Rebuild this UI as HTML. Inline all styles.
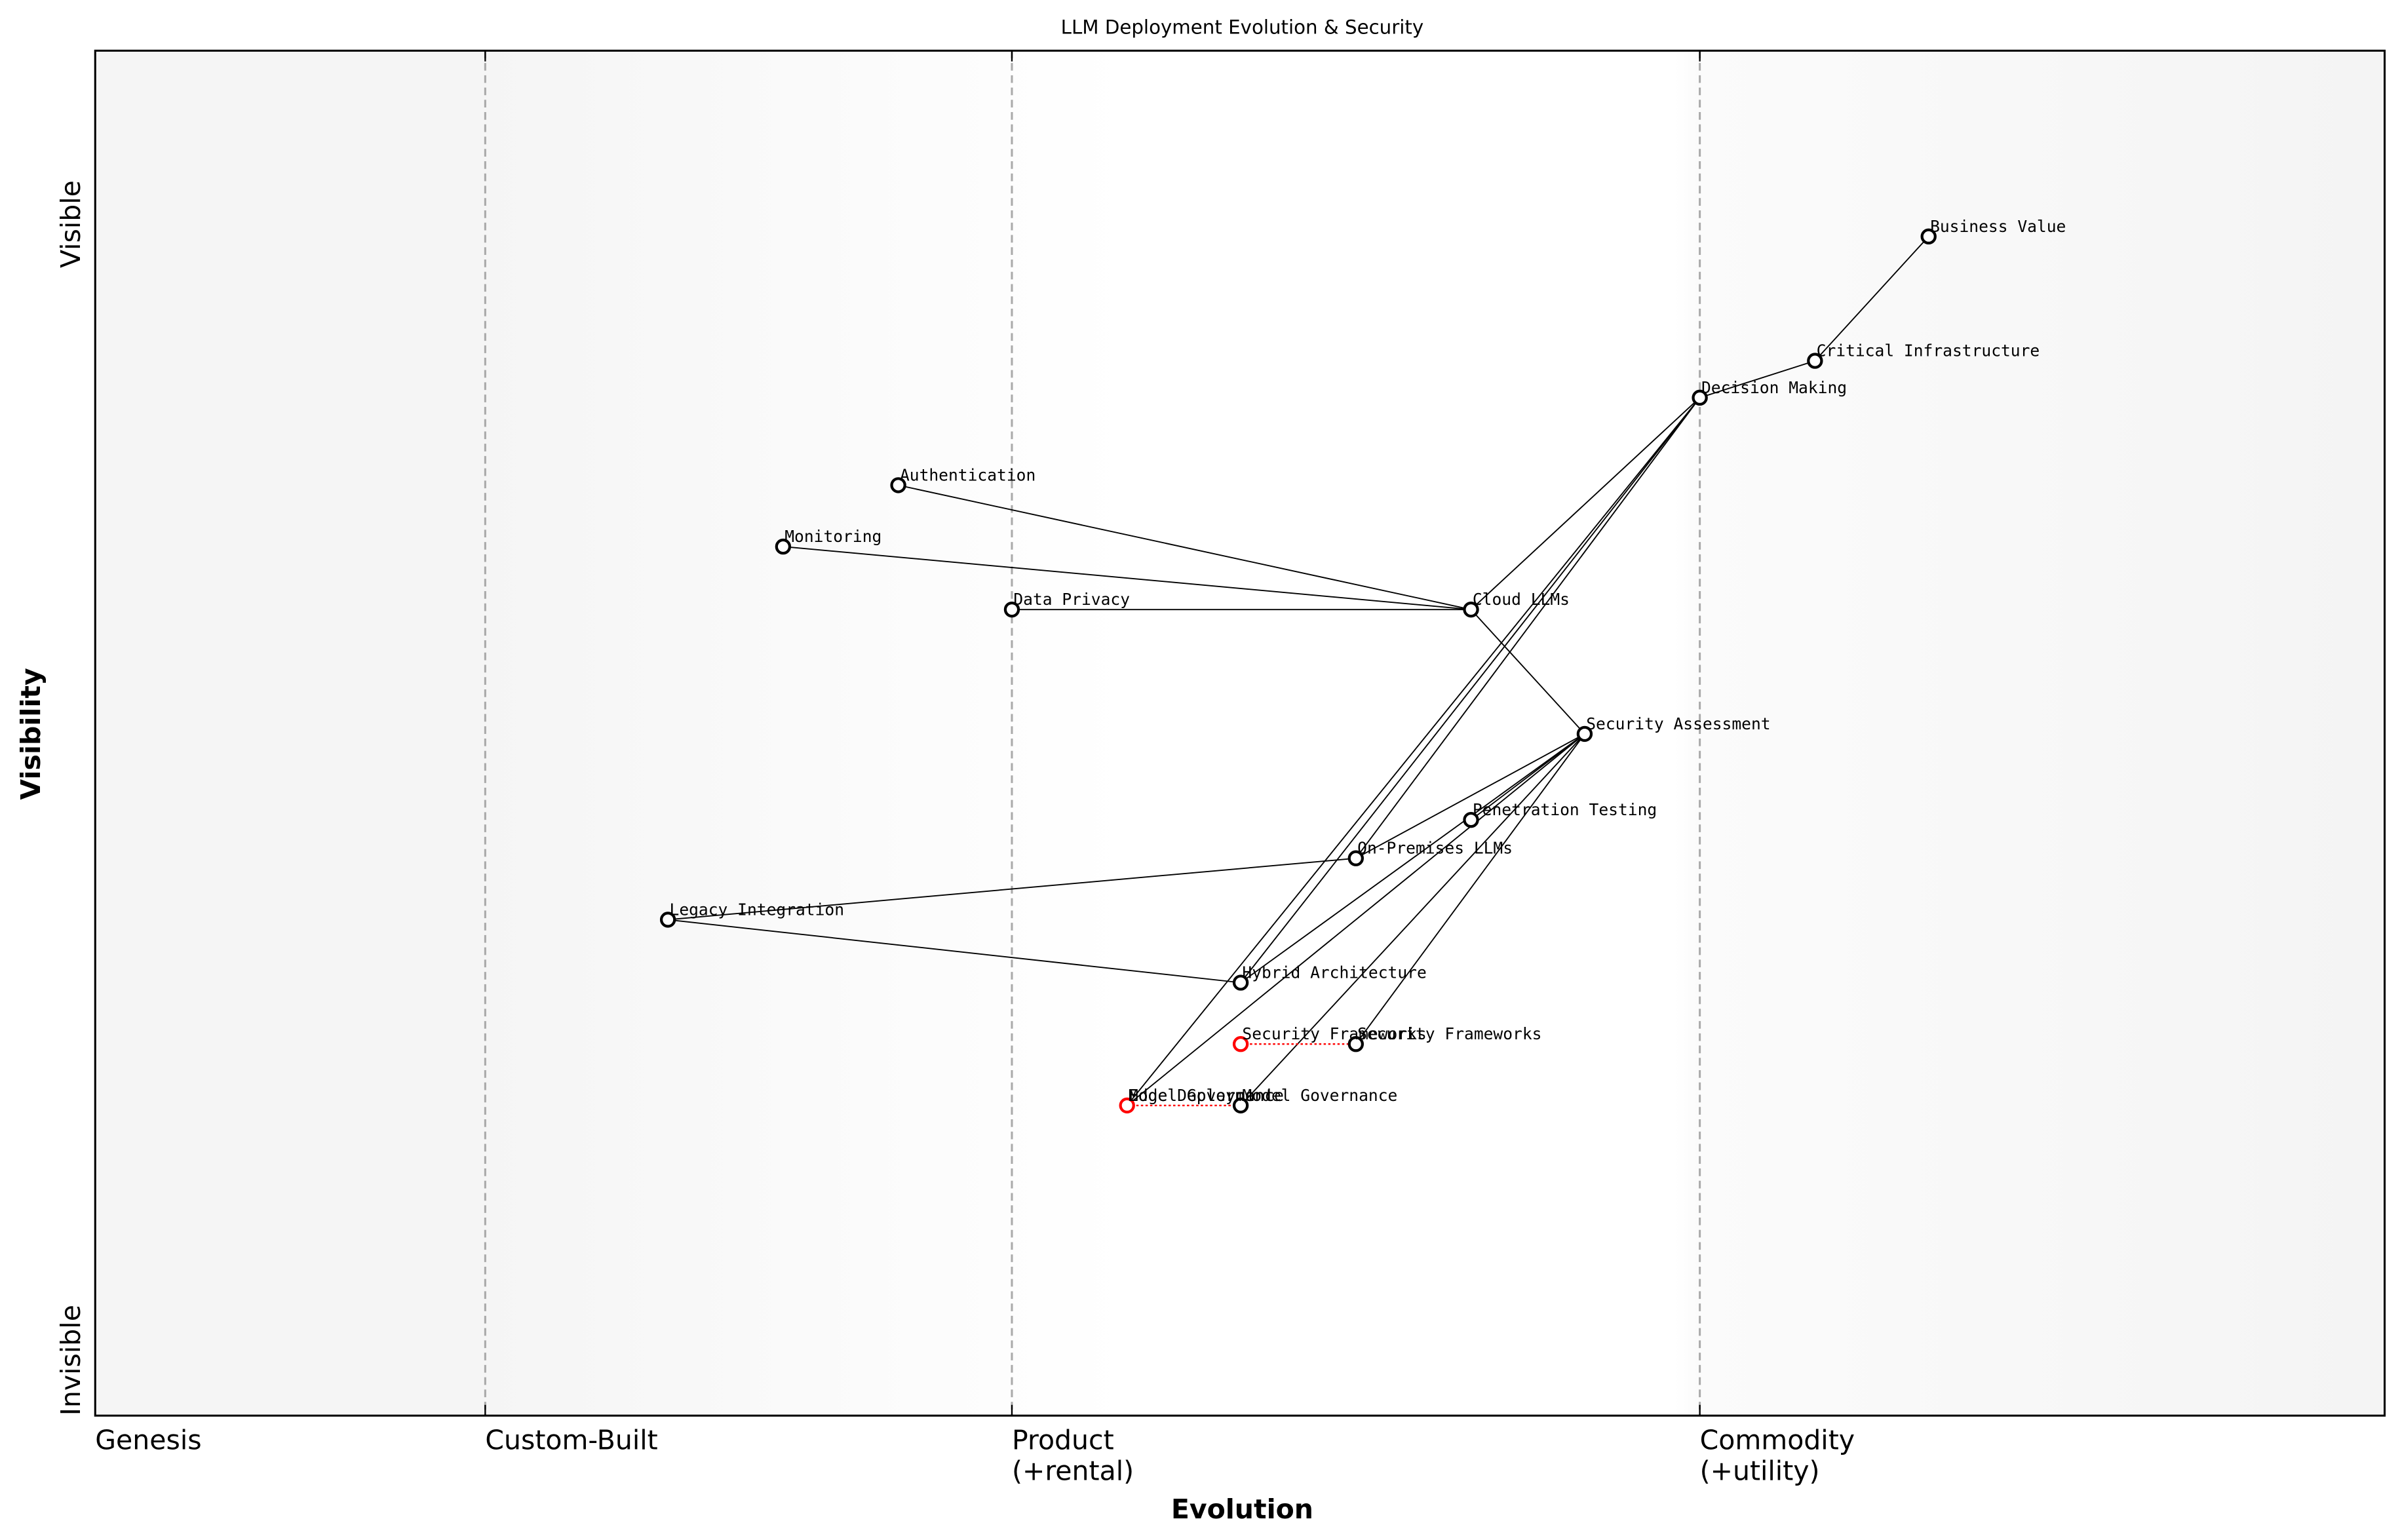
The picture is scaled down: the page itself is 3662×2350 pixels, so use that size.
<!DOCTYPE html>
<html><head><meta charset="utf-8"><style>html,body{margin:0;padding:0;background:#fff}svg{display:block}</style></head>
<body>
<svg width="3662" height="2350" viewBox="0 0 1563 1003" xmlns="http://www.w3.org/2000/svg">
<defs>
<linearGradient id="bg" x1="0" x2="1" y1="0" y2="0">
<stop offset="0" stop-color="#f5f5f5"/>
<stop offset="0.17" stop-color="#f5f5f5"/>
<stop offset="0.45" stop-color="#ffffff"/>
<stop offset="0.69" stop-color="#ffffff"/>
<stop offset="0.70" stop-color="#fbfbfb"/>
<stop offset="1" stop-color="#f4f4f4"/>
</linearGradient>
</defs>
<rect x="0" y="0" width="1563" height="1003" fill="#fff"/>
<rect x="62" y="33" width="1491" height="889" fill="url(#bg)"/>
<g stroke="#aaa" stroke-width="1.3" stroke-dasharray="5,3">
<line x1="316" y1="33" x2="316" y2="922"/>
<line x1="659" y1="33" x2="659" y2="922"/>
<line x1="1107" y1="33" x2="1107" y2="922"/>
</g>
<g stroke="#000" stroke-width="1">
<line x1="316" y1="33" x2="316" y2="40"/><line x1="659" y1="33" x2="659" y2="40"/><line x1="1107" y1="33" x2="1107" y2="40"/>
<line x1="316" y1="922" x2="316" y2="915"/><line x1="659" y1="922" x2="659" y2="915"/><line x1="1107" y1="922" x2="1107" y2="915"/>
</g>
<g stroke="#000" stroke-width="0.8" fill="none">
<line x1="1256" y1="154" x2="1182" y2="235"/>
<line x1="1182" y1="235" x2="1107" y2="259"/>
<line x1="1107" y1="259" x2="958" y2="397"/>
<line x1="1107" y1="259" x2="734" y2="720"/>
<line x1="1107" y1="259" x2="808" y2="640"/>
<line x1="1107" y1="259" x2="883" y2="559"/>
<line x1="958" y1="397" x2="1032" y2="478"/>
<line x1="958" y1="397" x2="585" y2="316"/>
<line x1="958" y1="397" x2="510" y2="356"/>
<line x1="958" y1="397" x2="659" y2="397"/>
<line x1="1032" y1="478" x2="883" y2="559"/>
<line x1="1032" y1="478" x2="958" y2="534"/>
<line x1="1032" y1="478" x2="808" y2="640"/>
<line x1="1032" y1="478" x2="734" y2="720"/>
<line x1="1032" y1="478" x2="808" y2="720"/>
<line x1="1032" y1="478" x2="883" y2="680"/>
<line x1="435" y1="599" x2="883" y2="559"/>
<line x1="435" y1="599" x2="808" y2="640"/>
</g>
<g stroke="red" stroke-width="1" stroke-dasharray="1.5,1.5">
<line x1="734" y1="720" x2="808" y2="720"/>
<line x1="808" y1="680" x2="883" y2="680"/>
</g>
<g fill="#fff" stroke="#000" stroke-width="1.8">
<circle cx="1256" cy="154" r="4.3"/><circle cx="1182" cy="235" r="4.3"/><circle cx="1107" cy="259" r="4.3"/>
<circle cx="585" cy="316" r="4.3"/><circle cx="510" cy="356" r="4.3"/><circle cx="659" cy="397" r="4.3"/>
<circle cx="958" cy="397" r="4.3"/><circle cx="1032" cy="478" r="4.3"/><circle cx="958" cy="534" r="4.3"/>
<circle cx="883" cy="559" r="4.3"/><circle cx="435" cy="599" r="4.3"/><circle cx="808" cy="640" r="4.3"/>
<circle cx="883" cy="680" r="4.3"/><circle cx="808" cy="720" r="4.3"/>
</g>
<g fill="#fff" stroke="red" stroke-width="1.8">
<circle cx="808" cy="680" r="4.3"/><circle cx="734" cy="720" r="4.3"/>
</g>
<g font-family="'DejaVu Sans Mono','Liberation Mono',monospace" font-size="10.5" fill="#000">
<text x="1257" y="151">Business Value</text>
<text x="1183" y="232">Critical Infrastructure</text>
<text x="1108" y="256">Decision Making</text>
<text x="586" y="313">Authentication</text>
<text x="511" y="353">Monitoring</text>
<text x="660" y="394">Data Privacy</text>
<text x="959" y="394">Cloud LLMs</text>
<text x="1033" y="475">Security Assessment</text>
<text x="959" y="531">Penetration Testing</text>
<text x="884" y="556">On-Premises LLMs</text>
<text x="436" y="596">Legacy Integration</text>
<text x="809" y="637">Hybrid Architecture</text>
<text x="809" y="677">Security Frameworks</text>
<text x="884" y="677">Security Frameworks</text>
<text x="735" y="717">Edge Deployment</text>
<text x="735" y="717">Model Governance</text>
<text x="809" y="717">Model Governance</text>
</g>
<rect x="62" y="33" width="1491" height="889" fill="none" stroke="#000" stroke-width="1.3"/>
<g font-family="'DejaVu Sans','Liberation Sans',sans-serif" fill="#000">
<text x="809" y="22" font-size="12.5" text-anchor="middle">LLM Deployment Evolution &amp; Security</text>
<g font-size="17.5">
<text x="62" y="944">Genesis</text>
<text x="316" y="944">Custom-Built</text>
<text x="659" y="944">Product</text>
<text x="659" y="964">(+rental)</text>
<text x="1107" y="944">Commodity</text>
<text x="1107" y="964">(+utility)</text>
<text transform="translate(52,146) rotate(-90)" text-anchor="middle">Visible</text>
<text transform="translate(52,922) rotate(-90)">Invisible</text>
</g>
<text x="809" y="989" font-size="17.5" font-weight="bold" text-anchor="middle">Evolution</text>
<text transform="translate(26,478) rotate(-90)" font-size="17.5" font-weight="bold" text-anchor="middle">Visibility</text>
</g>
</svg>
</body></html>
